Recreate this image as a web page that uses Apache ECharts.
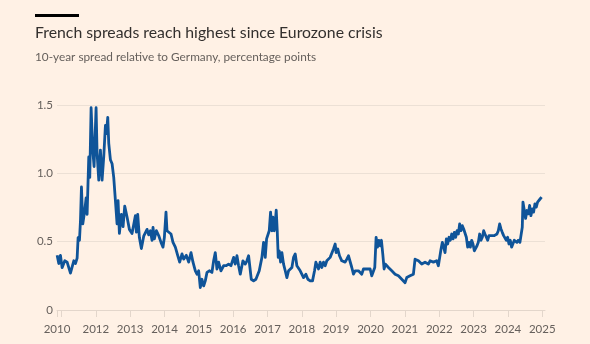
<!DOCTYPE html>
<html>
<head>
<meta charset="utf-8">
<script src="https://cdn.jsdelivr.net/npm/echarts@6/dist/echarts.min.js"></script>
<style>
html,body{margin:0;padding:0;background:#FFF1E5;}
#chart{width:590px;height:344px;}
</style>
</head>
<body>
<div id="chart"></div>
<script>
// Dates as decimal years, values in percentage points
const years = [
2010.874,2010.922,2010.971,2011.019,2011.097,2011.165,2011.262,2011.359,2011.407,2011.456,
2011.485,2011.524,2011.553,2011.582,2011.621,2011.679,2011.718,2011.747,2011.795,2011.824,
2011.863,2011.911,2011.950,2012.008,2012.037,2012.086,2012.134,2012.183,2012.231,2012.280,
2012.309,2012.348,2012.377,2012.425,2012.474,2012.522,2012.571,2012.619,2012.648,2012.687,
2012.745,2012.794,2012.842,2012.910,2012.978,2013.055,2013.152,2013.181,2013.220,2013.269,
2013.327,2013.395,2013.492,2013.540,
2013.589,2013.637,2013.666,2013.705,2013.763,2013.831,2013.899,2013.957,2013.996,2014.044,
2014.073,2014.122,2014.190,2014.248,2014.316,2014.384,2014.442,2014.510,2014.558,2014.636,
2014.704,2014.772,2014.830,2014.898,2014.946,2014.995,2015.043,2015.091,2015.140,2015.188,
2015.237,2015.314,2015.382,2015.431,2015.479,2015.528,2015.576,2015.644,2015.722,2015.799,
2015.867,2015.935,2016.013,2016.061,2016.110,2016.158,2016.207,2016.284,2016.352,
2016.400,2016.449,2016.488,2016.527,2016.594,2016.662,2016.720,2016.759,2016.798,2016.837,
2016.885,2016.934,2016.973,2017.011,2017.050,2017.089,2017.128,2017.157,2017.196,2017.225,
2017.254,2017.283,2017.312,2017.341,2017.380,2017.419,2017.467,2017.516,2017.564,2017.613,
2017.661,2017.710,2017.758,2017.807,2017.855,2017.903,2017.952,2018.000,2018.049,2018.117,
2018.175,2018.243,2018.310,2018.369,2018.408,2018.446,2018.485,2018.533,2018.582,2018.630,
2018.679,2018.727,2018.776,2018.824,2018.873,2018.921,2018.970,2018.999,2019.047,2019.096,
2019.163,2019.212,2019.260,2019.309,2019.357,2019.406,2019.454,2019.503,2019.551,2019.600,
2019.648,2019.697,2019.745,2019.794,2019.842,2019.891,2019.939,2019.988,2020.036,2020.085,
2020.123,2020.162,2020.201,2020.240,2020.278,2020.317,2020.356,2020.395,2020.434,2020.472,
2020.521,2020.569,2020.618,2020.666,2020.715,2020.763,2020.812,2020.860,2020.909,2020.957,
2021.006,2021.054,2021.103,2021.151,2021.200,2021.248,2021.296,2021.326,2021.394,2021.442,
2021.490,2021.539,2021.587,2021.636,2021.684,2021.733,2021.781,2021.830,
2021.878,2021.926,2021.975,2022.014,2022.053,2022.091,2022.130,2022.169,2022.208,2022.246,
2022.285,2022.324,2022.363,2022.402,2022.440,2022.479,2022.518,2022.557,2022.595,2022.634,
2022.673,2022.712,2022.751,2022.790,2022.828,2022.867,2022.906,2022.945,2022.983,2023.022,
2023.061,2023.100,2023.138,2023.177,2023.216,2023.255,2023.294,2023.332,2023.371,2023.410,
2023.449,2023.487,2023.526,2023.565,2023.604,2023.642,2023.681,2023.720,2023.759,2023.798,
2023.836,2023.875,2023.914,2023.953,2023.992,2024.030,2024.069,2024.108,2024.147,2024.186,
2024.224,2024.263,2024.302,2024.350,2024.389,2024.418,2024.438,2024.476,2024.515,2024.554,
2024.593,2024.632,2024.670,2024.709,2024.748,2024.787,2024.826,2024.864,2024.903,2024.942,
2024.981
];
const spread = [
0.40,0.34,0.40,0.31,0.36,0.35,0.27,0.36,0.34,0.38,
0.53,0.51,0.65,0.90,0.63,0.73,0.82,0.70,1.12,0.97,
1.48,1.17,1.05,1.48,1.15,0.95,1.17,0.95,1.12,1.35,
1.29,1.41,1.22,1.10,1.07,0.97,0.80,0.63,0.80,0.56,
0.70,0.61,0.76,0.68,0.59,0.56,0.69,0.57,0.70,0.53,
0.45,0.54,0.59,0.55,
0.58,0.51,0.605,0.52,0.58,0.545,0.495,0.46,0.53,0.716,
0.58,0.59,0.556,0.495,0.46,0.40,0.35,0.41,0.372,0.40,
0.35,0.42,0.35,0.287,0.262,0.287,0.164,0.225,0.176,0.213,
0.275,0.287,0.275,0.36,0.42,0.30,0.35,0.287,0.324,0.324,
0.336,0.324,0.385,0.336,0.397,0.324,0.262,0.36,0.336,
0.36,0.397,0.311,0.225,0.213,0.225,0.213,0.287,0.275,0.385,
0.495,0.385,0.52,0.532,0.58,0.716,0.58,0.679,0.58,0.643,
0.73,0.58,0.385,0.433,0.35,0.42,0.336,0.287,0.237,0.287,
0.275,0.311,0.385,0.41,0.324,0.336,0.287,0.30,0.237,0.262,
0.225,0.213,0.213,0.287,0.35,0.36,0.30,0.35,0.311,0.35,
0.324,0.36,0.36,0.385,0.372,0.446,0.483,0.42,0.446,0.397,
0.36,0.372,0.35,0.372,0.397,0.41,0.311,0.262,0.287,0.30,
0.287,0.30,0.262,0.30,0.311,0.30,0.311,0.30,0.25,0.237,
0.311,0.532,0.46,0.51,0.47,0.51,0.41,0.30,0.336,0.324,
0.311,0.30,0.287,0.275,0.262,0.275,0.25,0.237,0.225,0.213,
0.20,0.237,0.225,0.25,0.25,0.262,0.372,0.385,0.36,0.36,
0.336,0.35,0.35,0.36,0.336,0.36,0.36,0.35,
0.36,0.36,0.324,0.385,0.446,0.495,0.46,0.42,0.52,0.483,
0.532,0.51,0.556,0.52,0.568,0.532,0.58,0.556,0.63,0.58,
0.617,0.593,0.58,0.532,0.46,0.495,0.46,0.51,0.483,0.433,
0.42,0.47,0.495,0.556,0.51,0.532,0.58,0.556,0.568,0.51,
0.544,0.532,0.544,0.556,0.544,0.532,0.556,0.58,0.63,0.593,
0.568,0.544,0.556,0.51,0.532,0.483,0.51,0.46,0.446,0.51,
0.51,0.495,0.51,0.495,0.483,0.605,0.79,0.80,0.67,0.728,
0.703,0.765,0.69,0.74,0.716,0.777,0.753,0.79,0.80,0.814,
0.826
];
const xTickValues = [2010.87,2011,2012,2013,2014,2015,2016,2017,2018,2019,2020,2021,2022,2023,2024,2025];
const xLabelValues = [2010.87,2012,2013,2014,2015,2016,2017,2018,2019,2020,2021,2022,2023,2024,2025];

const seriesData = years.map((y, i) => [y, spread[i]]);

const chart = echarts.init(document.getElementById('chart'), null, {renderer: 'canvas'});
chart.setOption({
  backgroundColor: '#FFF1E5',
  animation: false,
  textStyle: {fontFamily: 'Lato, "Noto Sans", sans-serif'},
  title: {
    left: 35,
    top: 24,
    text: 'French spreads reach highest since Eurozone crisis',
    subtext: '10-year spread relative to Germany, percentage points',
    itemGap: 8,
    padding: 0,
    textStyle: {fontSize: 15.8, fontWeight: 'normal', color: '#33302e', lineHeight: 18, fontFamily: 'Lato, sans-serif'},
    subtextStyle: {fontSize: 11.8, color: '#66605c', lineHeight: 14, fontFamily: 'Lato, sans-serif'}
  },
  graphic: [{
    type: 'rect', left: 35, top: 14, shape: {width: 44, height: 3}, style: {fill: '#000000'}
  }],
  grid: {left: 57, right: 45, top: 105, bottom: 34},
  xAxis: {
    type: 'value',
    min: 2010.87,
    max: 2025.08,
    axisLine: {show: true, lineStyle: {color: '#e3d6cb', width: 1}},
    axisTick: {show: true, customValues: xTickValues, length: 7, lineStyle: {color: '#e3d6cb'}},
    axisLabel: {
      customValues: xLabelValues,
      formatter: v => v < 2011 ? '2010' : String(Math.round(v)),
      color: '#66605c', fontSize: 11.5, margin: 13
    },
    splitLine: {show: false}
  },
  yAxis: {
    type: 'value',
    min: 0, max: 1.5, interval: 0.5,
    axisLine: {show: false},
    axisTick: {show: false},
    axisLabel: {
      color: '#66605c', fontSize: 11.5, margin: 4,
      formatter: v => v === 0 ? '0' : v.toFixed(1)
    },
    splitLine: {show: true, lineStyle: {color: '#ece0d5', width: 1}}
  },
  series: [{
    type: 'line',
    data: seriesData,
    showSymbol: false,
    symbol: 'none',
    lineStyle: {color: '#0f5499', width: 2.8, join: 'round'},
    z: 3
  }]
});
</script>
</body>
</html>
